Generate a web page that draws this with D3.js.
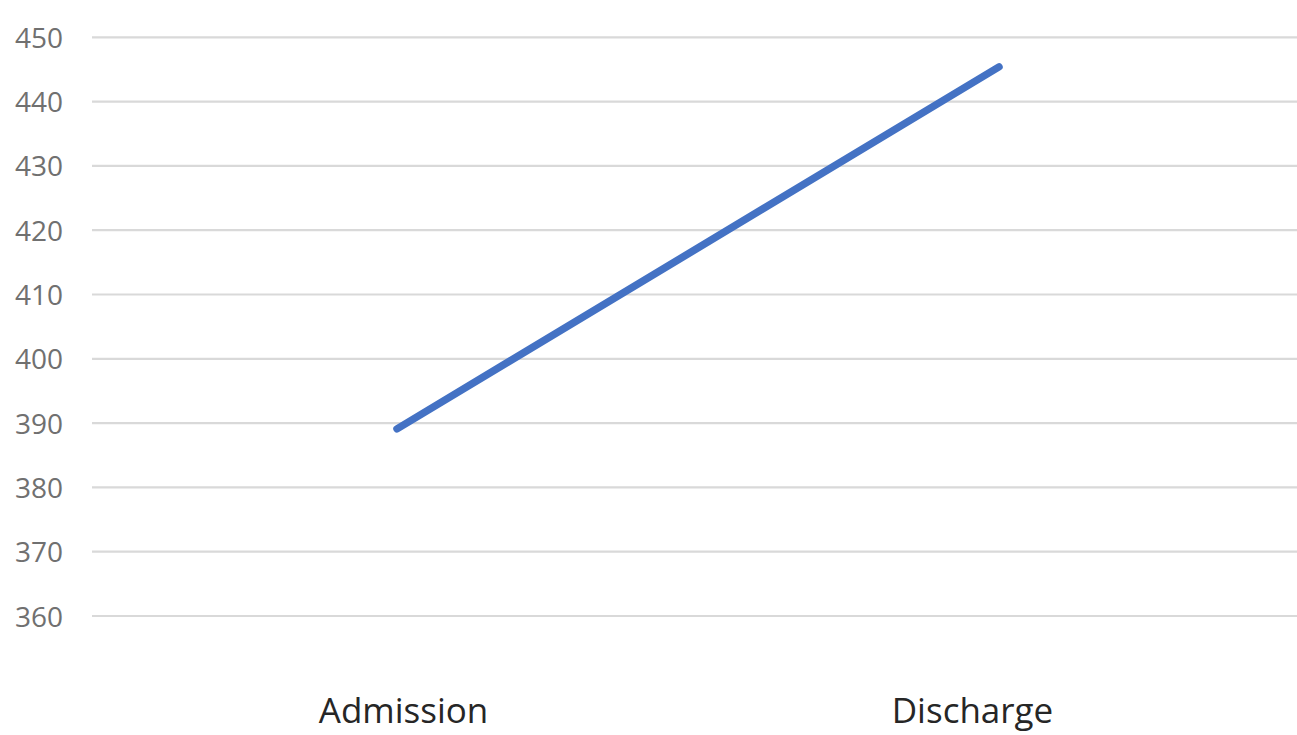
<!DOCTYPE html>
<html>
<head>
<meta charset="utf-8">
<script src="https://cdn.jsdelivr.net/npm/d3@7"></script>
<style>
  html, body { margin: 0; padding: 0; background: #fff; }
  svg { display: block; }
</style>
</head>
<body>
<script>
const categories = ["Admission", "Discharge"];
const values = [389.1, 445.4];
const yTicks = [360, 370, 380, 390, 400, 410, 420, 430, 440, 450];

const W = 1297, H = 735;
const svg = d3.select("body").append("svg").attr("width", W).attr("height", H);

const gridLeft = 92, gridRight = 1297;
const y = d3.scaleLinear().domain([360, 450]).range([616, 37.3]);
const x = d3.scaleBand().domain(categories).range([96, 1300]).padding(0);
// category label placement (labels sit slightly inward of the data points)
const xLabel = d3.scalePoint().domain(categories).range([403, 972]);

// gridlines
svg.append("g").selectAll("line").data(yTicks).join("line")
  .attr("x1", gridLeft).attr("x2", gridRight)
  .attr("y1", d => y(d)).attr("y2", d => y(d))
  .attr("stroke", "#d9d9d9").attr("stroke-width", 2.2);

// y axis labels
const yAxis = d3.axisLeft(y).tickValues(yTicks).tickSize(0).tickPadding(0);
const gy = svg.append("g").attr("transform", "translate(63,0)").call(yAxis);
gy.select(".domain").remove();
gy.selectAll("text")
  .attr("font-family", "'Open Sans', sans-serif")
  .attr("font-size", 28)
  .attr("fill", "#707070")
  .attr("dy", "0.36em");

// x axis labels
const xAxis = d3.axisBottom(xLabel).tickSize(0).tickPadding(0);
const gx = svg.append("g").attr("transform", "translate(0,722.5)").call(xAxis);
gx.select(".domain").remove();
gx.selectAll("text")
  .attr("font-family", "'Open Sans', sans-serif")
  .attr("font-size", 35)
  .attr("fill", "#262626")
  .attr("dy", 0)
  .attr("y", 0);

// line
const line = d3.line()
  .x((d, i) => x(categories[i]) + x.bandwidth() / 2)
  .y(d => y(d));
svg.append("path")
  .datum(values)
  .attr("d", line)
  .attr("fill", "none")
  .attr("stroke", "#4472C4")
  .attr("stroke-width", 7.5)
  .attr("stroke-linecap", "round");
</script>
</body>
</html>
